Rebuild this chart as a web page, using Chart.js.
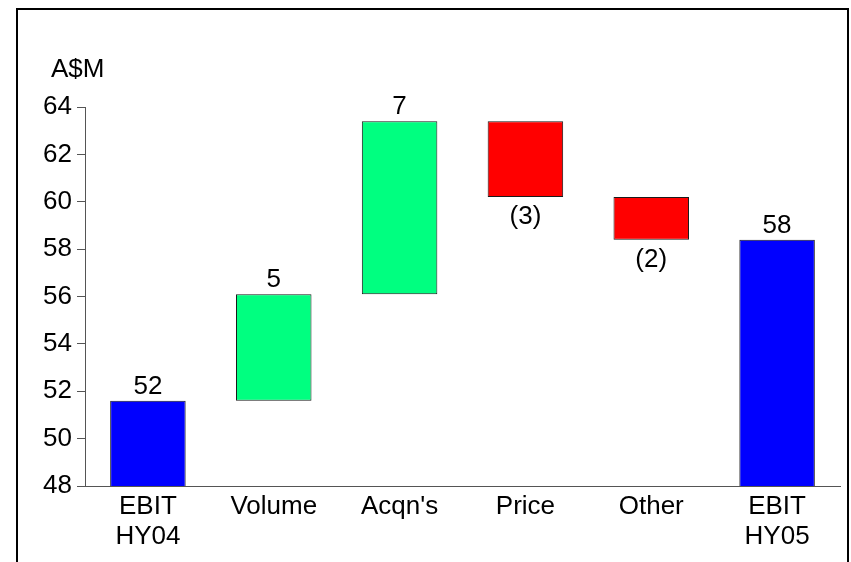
<!DOCTYPE html>
<html>
<head>
<meta charset="utf-8">
<script src="https://cdn.jsdelivr.net/npm/chart.js@4/dist/chart.umd.min.js"></script>
<style>
  html, body { margin: 0; padding: 0; background: #fff; }
  #wrap { position: relative; width: 851px; height: 562px; overflow: hidden; }
  #wrap canvas { position: absolute; left: 0; top: 0; }
  #frame { position: absolute; left: 16px; top: 8px; width: 829px; height: 600px;
           border: 2px solid #000; pointer-events: none; }
</style>
</head>
<body>
<div id="wrap">
  <canvas id="bridge" width="851" height="562"></canvas>
  <div id="frame"></div>
</div>
<script>
// EBIT bridge, half-year 2004 to half-year 2005 (A$M)
const categories = [["EBIT", "HY04"], "Volume", "Acqn's", "Price", "Other", ["EBIT", "HY05"]];
const openingEbit = 51.6;
const movements = [4.5, 7.3, -3.2, -1.8];   // Volume, Acqn's, Price, Other
const closingEbit = 58.4;
const yTickValues = [48, 50, 52, 54, 56, 58, 60, 62, 64];
const unitLabel = "A$M";

const COLOR_TOTAL = "#0000FF";
const COLOR_UP = "#00FF80";
const COLOR_DOWN = "#FF0000";
const FONT = "'Liberation Sans', Arial, sans-serif";
const FONT_SIZE = 26;

// Floating ranges: totals rise from zero, movements run from the running total
const ranges = [[0, openingEbit]];
const barColors = [COLOR_TOTAL];
const barLabels = [String(Math.round(openingEbit))];
let running = openingEbit;
movements.forEach(m => {
  const next = Math.round((running + m) * 10) / 10;
  ranges.push([running, next]);
  barColors.push(m >= 0 ? COLOR_UP : COLOR_DOWN);
  barLabels.push(m >= 0 ? String(Math.round(m)) : "(" + Math.round(-m) + ")");
  running = next;
});
ranges.push([0, closingEbit]);
barColors.push(COLOR_TOTAL);
barLabels.push(String(Math.round(closingEbit)));

// Value labels above rising bars, below falling bars, plus the unit caption
const bridgeLabels = {
  id: "bridgeLabels",
  afterDatasetsDraw(chart) {
    const ctx = chart.ctx;
    const area = chart.chartArea;
    const meta = chart.getDatasetMeta(0);
    ctx.save();
    ctx.fillStyle = "#000";
    ctx.font = FONT_SIZE + "px " + FONT;
    ctx.textAlign = "center";
    ctx.textBaseline = "alphabetic";
    meta.data.forEach((bar, i) => {
      const [from, to] = ranges[i];
      const top = Math.min(bar.y, bar.base, area.bottom);
      const bottom = Math.min(Math.max(bar.y, bar.base), area.bottom);
      if (to >= from) {
        ctx.fillText(barLabels[i], bar.x, top - 7);
      } else {
        ctx.fillText(barLabels[i], bar.x, bottom + 27);
      }
    });
    ctx.textAlign = "left";
    ctx.fillText(unitLabel, area.left - 34, area.top - 30);
    ctx.restore();
  }
};

new Chart(document.getElementById("bridge"), {
  type: "bar",
  data: {
    labels: categories,
    datasets: [{
      data: ranges,
      backgroundColor: barColors,
      borderColor: "#1a1a1a",
      borderWidth: 1,
      borderSkipped: false,
      barPercentage: 0.6,
      categoryPercentage: 1.0
    }]
  },
  options: {
    responsive: false,
    animation: false,
    layout: { padding: { top: 107, right: 11, left: 0, bottom: 0 } },
    plugins: { legend: { display: false }, tooltip: { enabled: false } },
    scales: {
      x: {
        grid: { display: true, drawOnChartArea: false, drawTicks: false },
        border: { display: true, color: "#555", width: 1 },
        ticks: { color: "#000", font: { family: FONT, size: FONT_SIZE, lineHeight: 1.15 },
                 padding: 6, maxRotation: 0, autoSkip: false },
        afterFit(scale) { scale.height = 76; }
      },
      y: {
        min: yTickValues[0],
        max: yTickValues[yTickValues.length - 1],
        afterBuildTicks(scale) { scale.ticks = yTickValues.map(v => ({ value: v })); },
        ticks: { color: "#000", font: { family: FONT, size: FONT_SIZE }, padding: 5 },
        grid: { drawOnChartArea: false, drawTicks: true, tickLength: 8, color: "#555" },
        border: { display: true, color: "#555", width: 1 },
        afterFit(scale) { scale.width = 85; }
      }
    }
  },
  plugins: [bridgeLabels]
});
</script>
</body>
</html>
